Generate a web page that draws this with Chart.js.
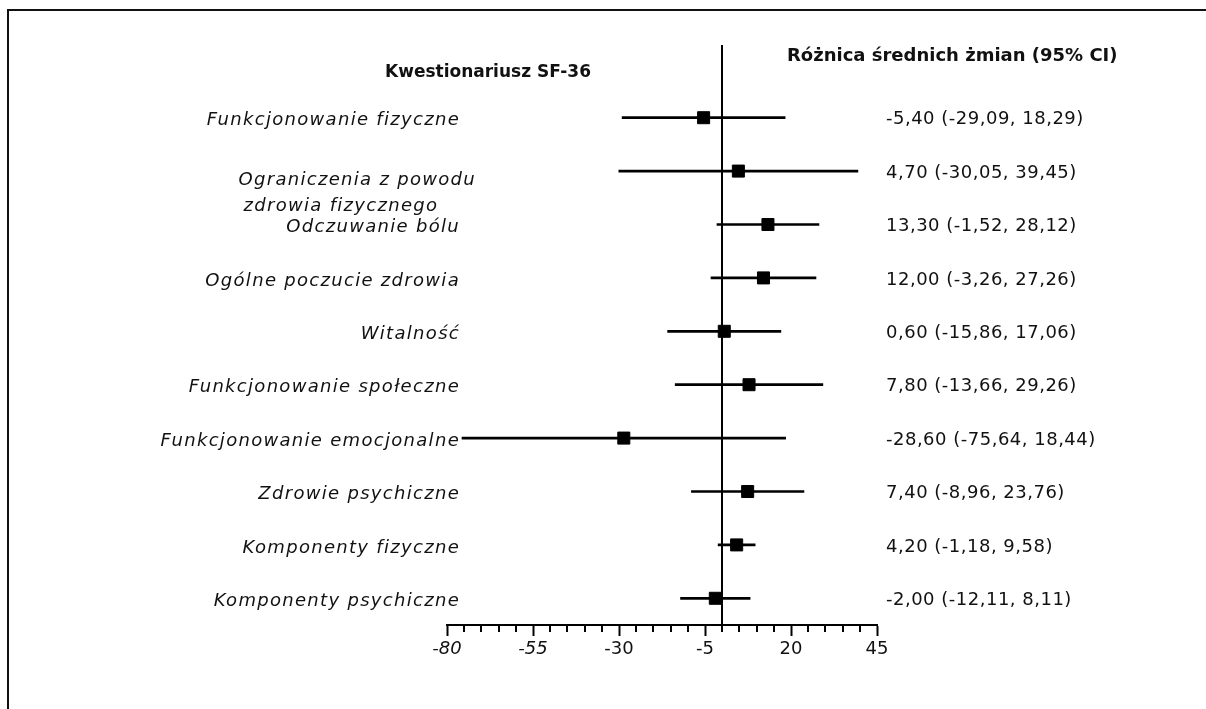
<!DOCTYPE html>
<html><head><meta charset="utf-8">
<script src="https://cdn.jsdelivr.net/npm/chart.js@4"></script>
<style>html,body{margin:0;padding:0;background:#fff}#wrap{width:1206px;height:709px;position:relative}canvas{display:block}</style>
</head><body><div id="wrap"><canvas id="c" width="1206" height="709"></canvas></div>
<script>
// ---- data ----
const categories = ['Funkcjonowanie fizyczne', ['Ograniczenia z powodu', 'zdrowia fizycznego'], 'Odczuwanie bólu', 'Ogólne poczucie zdrowia', 'Witalność', 'Funkcjonowanie społeczne', 'Funkcjonowanie emocjonalne', 'Zdrowie psychiczne', 'Komponenty fizyczne', 'Komponenty psychiczne'];
const meanDiff = [-5.40, 4.70, 13.30, 12.00, 0.60, 7.80, -28.60, 7.40, 4.20, -2.00];
const ciLower = [-29.09, -30.05, -1.52, -3.26, -15.86, -13.66, -75.64, -8.96, -1.18, -12.11];
const ciUpper = [18.29, 39.45, 28.12, 27.26, 17.06, 29.26, 18.44, 23.76, 9.58, 8.11];
const xTickLabels = [-80, -55, -30, -5, 20, 45];
const headerLeft = 'Kwestionariusz SF-36';
const headerRight = 'Różnica średnich żmian (95% CI)';

const FONT = '"DejaVu Sans", sans-serif';
const fmt = v => v.toFixed(2).replace('.', ',');
const ciText = meanDiff.map((m, i) => fmt(m) + ' (' + fmt(ciLower[i]) + ', ' + fmt(ciUpper[i]) + ')');

const decor = {
  id: 'decor',
  beforeDraw(chart) {
    const c = chart.ctx;
    c.save();
    c.fillStyle = '#fff';
    c.fillRect(0, 0, chart.width, chart.height);
    c.strokeStyle = '#111';
    c.lineWidth = 2;
    c.beginPath();
    c.moveTo(8, 709); c.lineTo(8, 10); c.lineTo(1206, 10);
    c.stroke();
    c.restore();
  },
  beforeDatasetsDraw(chart) {
    const c = chart.ctx, xs = chart.scales.x;
    const x0 = Math.round(xs.getPixelForValue(0));
    c.save();
    c.strokeStyle = '#000';
    c.lineWidth = 2;
    c.beginPath();
    c.moveTo(x0, 45); c.lineTo(x0, chart.chartArea.bottom);
    c.stroke();
    c.restore();
  },
  afterDraw(chart) {
    const c = chart.ctx, xs = chart.scales.x, ys = chart.scales.y;
    const bottom = chart.chartArea.bottom;
    c.save();
    // minor ticks
    c.strokeStyle = '#000';
    c.lineWidth = 2;
    xs.ticks.forEach(t => {
      if (xTickLabels.includes(t.value)) return;
      const x = Math.round(xs.getPixelForValue(t.value));
      c.beginPath(); c.moveTo(x, bottom); c.lineTo(x, bottom + 7); c.stroke();
    });
    c.fillStyle = '#111';
    c.textBaseline = 'middle';
    // headers
    c.font = 'bold 17px ' + FONT;
    c.textAlign = 'left';
    c.fillText(headerLeft, 385, 73);
    c.font = 'bold 18px ' + FONT;
    c.fillText(headerRight, 787, 56);
    // row labels
    try { c.letterSpacing = '1.3px'; } catch (e) {}
    c.font = 'italic 18px ' + FONT;
    categories.forEach((lab, i) => {
      const y = ys.getPixelForValue(i);
      if (Array.isArray(lab)) {
        const w = Math.max(...lab.map(l => c.measureText(l).width));
        c.textAlign = 'left';
        lab.forEach((l, k) => c.fillText(l, 476 - w + (k ? 5 : 0), y + 9 + k * 26));
      } else {
        c.textAlign = 'right';
        c.fillText(lab, 460, y + 3);
      }
    });
    // CI texts
    try { c.letterSpacing = '0.5px'; } catch (e) {}
    c.font = '18px ' + FONT;
    c.textAlign = 'left';
    ciText.forEach((t, i) => c.fillText(t, 886, ys.getPixelForValue(i) + 2));
    c.restore();
  }
};

new Chart(document.getElementById('c'), {
  type: 'bar',
  data: {
    labels: categories,
    datasets: [
      {
        type: 'bar',
        data: ciLower.map((l, i) => [l, ciUpper[i]]),
        backgroundColor: '#000',
        borderWidth: 0,
        barThickness: 2,
        order: 2
      },
      {
        type: 'line',
        indexAxis: 'y',
        data: meanDiff,
        showLine: false,
        pointStyle: 'rect',
        pointRadius: 8.5,
        pointBackgroundColor: '#000',
        pointBorderColor: '#000',
        pointBorderWidth: 1,
        order: 1
      }
    ]
  },
  options: {
    indexAxis: 'y',
    responsive: false,
    animation: false,
    devicePixelRatio: 1,
    layout: { padding: { left: 447, right: 329, top: 91, bottom: 39 } },
    plugins: { legend: { display: false }, tooltip: { enabled: false } },
    scales: {
      y: { type: 'category', display: false, offset: true, grid: { display: false } },
      x: {
        type: 'linear', min: -80, max: 45, position: 'bottom',
        afterFit: s => { s.height = 45; },
        ticks: {
          stepSize: 5, autoSkip: false, maxRotation: 0, padding: 3, color: '#111',
          callback: v => xTickLabels.includes(v) ? String(v) : '',
          font: c => ({ family: FONT, size: 18, style: (c.tick && c.tick.value < -50) ? 'italic' : 'normal' })
        },
        grid: {
          drawOnChartArea: false, drawTicks: true, tickLength: 11, tickWidth: 2,
          tickColor: c => (c.tick && xTickLabels.includes(c.tick.value)) ? '#000' : 'rgba(0,0,0,0)'
        },
        border: { display: true, color: '#000', width: 2 }
      }
    }
  },
  plugins: [decor]
});
</script>
</body></html>
